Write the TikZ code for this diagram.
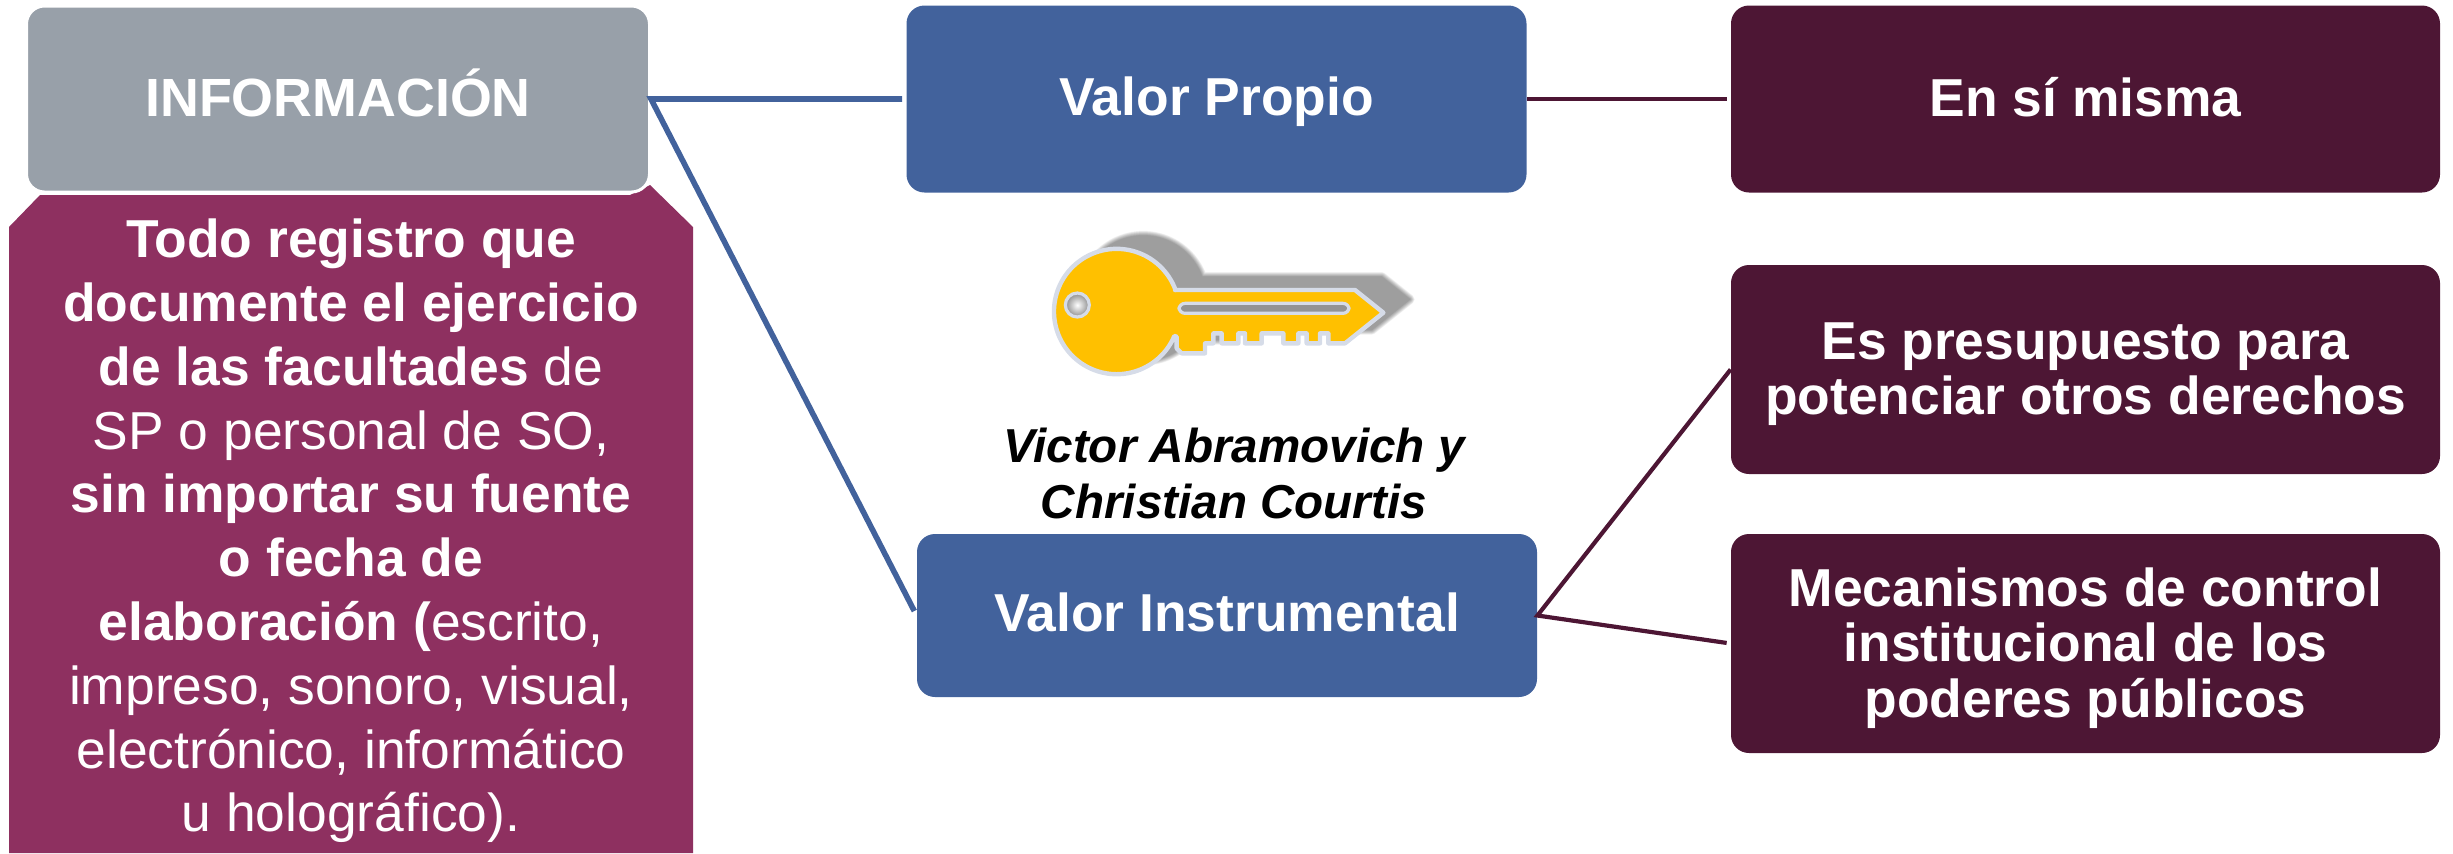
\documentclass[tikz,border=0pt]{standalone}
\usepackage{fontspec}
\setmainfont{Liberation Sans}
\definecolor{cgray}{HTML}{98A0A9}
\definecolor{cblue}{HTML}{42629C}
\definecolor{cdark}{HTML}{4D1634}
\definecolor{cpurple}{HTML}{8E3060}
\definecolor{ckey}{HTML}{FFC000}
\definecolor{cedge}{HTML}{D6DCE8}
\tikzset{
  boxbase/.style={rectangle,rounded corners=9pt,inner sep=0pt,align=center,text=white,
    font=\bfseries\fontsize{26.7}{27.6}\selectfont},
  infobox/.style={boxbase,fill=cgray,draw=white,line width=1.5pt,minimum width=311.5pt,minimum height=93pt},
  valbox/.style={boxbase,fill=cblue,minimum width=310pt},
  rightbox/.style={boxbase,fill=cdark,minimum width=354.5pt},
  bluelink/.style={draw=cblue,line width=2.8pt},
  darklink/.style={draw=cdark,line width=2.1pt},
  deftext/.style={align=center,text=white,inner sep=0pt,font=\fontsize{26.7}{31.9}\selectfont},
  authortext/.style={align=center,text=black,inner sep=0pt,font=\bfseries\itshape\fontsize{23.8}{28.2}\selectfont},
}
\def\keyoutline{(525,270) -- (1065,270) -- (1150,338) -- (1035,430) -- (985,430) -- (985,400) -- (960,400) -- (960,430) -- (920,430) -- (920,400) -- (895,400) -- (895,430) -- (850,430) -- (850,400) -- (785,400) -- (785,430) -- (735,430) -- (735,400) -- (715,400) -- (715,430) -- (665,430) -- (665,400) -- (640,400) -- (640,430) -- (615,430) -- (615,460) -- (545,460) -- (530,445) -- (530,410) -- (523,408) arc (23:340:188) -- cycle}
\begin{document}
\begin{tikzpicture}[x=0.5pt,y=-0.5pt]
\useasboundingbox (0,0) rectangle (2453,853);
% purple definition panel
\fill[cpurple] (9,227) -- (40,195) -- (630,195) -- (650,185) -- (693,227) -- (693,853) -- (9,853) -- cycle;
\node[infobox] (info) at (338,99) {};
\node[text=white,inner sep=0pt,font=\bfseries\fontsize{26.9}{27.6}\selectfont] (infot) at (338,93) {INFORMACIÓN};
\node[deftext] (def) at (351,531) {\textbf{Todo registro que}\\\textbf{documente el ejercicio}\\\textbf{de las facultades} de\\SP o personal de SO,\\\textbf{sin importar su fuente}\\\textbf{o fecha de}\\\textbf{elaboración (}escrito,\\impreso, sonoro, visual,\\electrónico, informático\\u holográfico).};
\node[valbox,minimum height=93.5pt] (vp) at (1216.5,99) {};
\node[boxbase,fill=none] (vpt) at (1216.5,102) {Valor Propio};
\node[valbox,minimum height=81.5pt] (vi) at (1227,615.5) {};
\node[boxbase,fill=none] (vit) at (1227,612.5) {Valor Instrumental};
\node[rightbox,minimum height=93.5pt] (en) at (2085.5,99) {};
\node[boxbase,fill=none] (ent) at (2085.5,97.5) {En sí misma};
\node[rightbox,minimum height=104.5pt] (es) at (2085.5,369.5) {};
\node[boxbase,fill=none] (est) at (2085.5,374.5) {Es presupuesto para\\potenciar otros derechos};
\node[rightbox,minimum height=109.5pt] (me) at (2085.5,643.5) {};
\node[boxbase,fill=none] (met) at (2085.5,648) {Mecanismos de control\\institucional de los\\poderes públicos};
\node[authortext] (au) at (1234,473.5) {Victor Abramovich y\\Christian Courtis};
% connectors
\draw[bluelink,line join=miter,shorten >=2.5pt,shorten <=2pt] (vp.west) -- (info.east) -- (vi.west);
\draw[darklink,shorten >=2pt] (vp.east) -- (en.west);
\draw[darklink,shorten >=2pt] (es.west) -- (vi.east) -- (me.west);
% key
\begin{scope}[shift={(1000,200)},x=0.16667pt,y=-0.16667pt]
  \begin{scope}[shift={(80,-40)}]
    \foreach \w in {28,25,22,19,16,13,10,7,4,1}{
      \begin{scope}[transparency group,opacity=.047]
        \draw[fill=black,draw=black,line width=\w*0.16667pt,line join=round] \keyoutline;
      \end{scope}
    }
  \end{scope}
  \draw[fill=ckey,draw=cedge,line width=2.2pt,line join=round] \keyoutline;
  \draw[fill=gray!85,draw=cedge,line width=1.6pt,rounded corners=3pt] (537,310) -- (1047,310) -- (1047,340) -- (537,340) -- cycle;
  \draw[inner color=white,outer color=gray!90,draw=cedge,line width=1.6pt] (232,315) circle (36);
\end{scope}
\end{tikzpicture}
\end{document}
